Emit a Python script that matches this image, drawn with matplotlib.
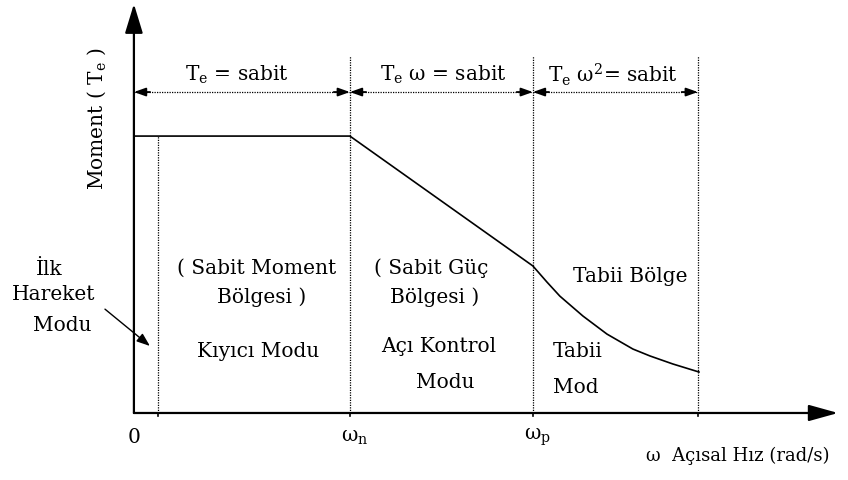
import matplotlib.pyplot as plt
import numpy as np

# hiz sinirlari (w_n = 1 birim)
w_ilk = 0.111
w_n = 1.0
w_p = 1.847
w_max = 2.611

# moment egrisi (okunan degerler, T sabit bolge = 1)
curve_w = [0.0, 1.0, 1.847, 1.912, 1.972, 2.079, 2.190, 2.310, 2.389, 2.495, 2.616]
curve_T = [1.0, 1.0, 0.531, 0.473, 0.422, 0.350, 0.285, 0.231, 0.206, 0.177, 0.148]

span_labels = ["T$_\\mathregular{e}$ = sabit",
               "T$_\\mathregular{e}$ ω = sabit",
               "T$_\\mathregular{e}$ ω$^\\mathregular{2}$= sabit"]
tick_labels = ["0", "ω$_\\mathregular{n}$", "ω$_\\mathregular{p}$"]

plt.rcParams['font.family'] = 'DejaVu Serif'
plt.rcParams['mathtext.fontset'] = 'dejavuserif'
fs = 14.5

fig = plt.figure(figsize=(8.48, 4.81), dpi=100)
ax = fig.add_axes([0, 0, 1, 1])
ax.set_xlim(-0.620, 3.306)
ax.set_ylim(-0.242, 1.495)
ax.axis('off')

# eksenler
ax.annotate('', xy=(0, 1.477), xytext=(0, 0),
            arrowprops=dict(arrowstyle='-|>,head_length=1.8,head_width=0.55',
                            lw=1.6, color='k', shrinkA=0, shrinkB=0))
ax.annotate('', xy=(3.26, 0), xytext=(0, 0),
            arrowprops=dict(arrowstyle='-|>,head_length=1.8,head_width=0.5',
                            lw=1.6, color='k', shrinkA=0, shrinkB=0))

# dikey noktali cizgiler
ax.plot([w_ilk, w_ilk], [0, 1.0], color='k', lw=0.9, dashes=(1, 1))
for w in [w_n, w_p, w_max]:
    ax.plot([w, w], [0, 1.29], color='k', lw=0.9, dashes=(1, 1))
    ax.plot([w, w], [-0.012, 0.0], color='k', lw=1.2)
ax.plot([w_ilk, w_ilk], [-0.012, 0.0], color='k', lw=1.2)

# moment egrisi
ax.plot(curve_w, curve_T, color='k', lw=1.2)

# olcu oklari
T_dim = 1.159
spans = [(0, w_n), (w_n, w_p), (w_p, w_max)]
label_x = [0.477, 1.431, 2.218]
for (a, b), lab, lx in zip(spans, span_labels, label_x):
    ax.plot([a, b], [T_dim, T_dim], color='k', lw=0.9, dashes=(1, 1))
    for end, other in [(a, a + 0.075), (b, b - 0.075)]:
        ax.annotate('', xy=(end, T_dim), xytext=(other, T_dim),
                    arrowprops=dict(arrowstyle='-|>,head_length=0.7,head_width=0.25',
                                    lw=1.3, color='k', shrinkA=0, shrinkB=0))
    ax.text(lx, 1.224, lab, fontsize=fs, ha='center', va='center')

# bolge yazilari
ax.text(0.569, 0.527, "( Sabit Moment", fontsize=fs, ha='center', va='center')
ax.text(0.592, 0.422, "Bölgesi )", fontsize=fs, ha='center', va='center')
ax.text(0.574, 0.224, "Kıyıcı Modu", fontsize=fs, ha='center', va='center')
ax.text(1.375, 0.527, "( Sabit Güç", fontsize=fs, ha='center', va='center')
ax.text(1.394, 0.422, "Bölgesi )", fontsize=fs, ha='center', va='center')
ax.text(1.412, 0.242, "Açı Kontrol", fontsize=fs, ha='center', va='center')
ax.text(1.440, 0.112, "Modu", fontsize=fs, ha='center', va='center')
ax.text(2.296, 0.498, "Tabii Bölge", fontsize=fs, ha='center', va='center')
ax.text(1.94, 0.224, "Tabii", fontsize=fs, ha='left', va='center')
ax.text(1.94, 0.094, "Mod", fontsize=fs, ha='left', va='center')

# ilk hareket modu
ax.text(-0.394, 0.520, "İlk", fontsize=fs, ha='center', va='center')
ax.text(-0.370, 0.433, "Hareket", fontsize=fs, ha='center', va='center')
ax.text(-0.333, 0.321, "Modu", fontsize=fs, ha='center', va='center')
ax.annotate('', xy=(0.074, 0.242), xytext=(-0.134, 0.375),
            arrowprops=dict(arrowstyle='-|>,head_length=0.8,head_width=0.3',
                            lw=1.0, color='k', shrinkA=0, shrinkB=0))

# eksen yazilari
ax.text(-0.171, 1.065, "Moment ( T$_\\mathregular{e}$ )", fontsize=fs,
        rotation=90, ha='center', va='center')
for w, lab in zip([0, w_n, w_p], tick_labels):
    ax.text(w + (0.0 if w == 0 else 0.02), -0.085, lab, fontsize=fs,
            ha='center', va='center')
ax.text(2.796, -0.150, "ω  Açısal Hız (rad/s)", fontsize=fs - 1.5,
        ha='center', va='center')

fig.savefig("out.png", dpi=100)
